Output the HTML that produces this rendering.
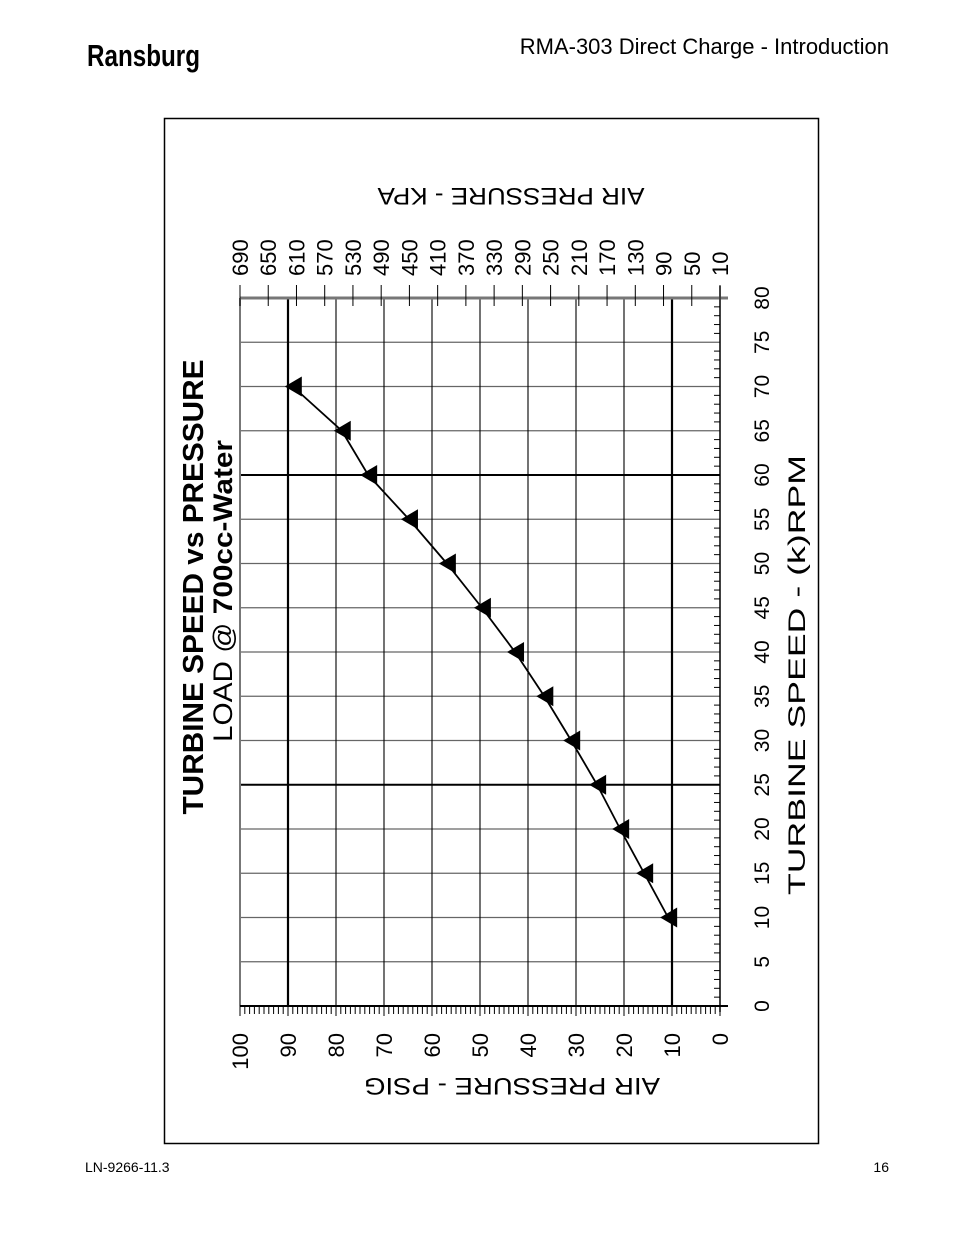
<!DOCTYPE html>
<html><head><meta charset="utf-8"><style>
html,body{margin:0;padding:0;background:#fff;}
svg{display:block;font-family:"Liberation Sans",Arial,sans-serif;}
</style></head><body>
<svg id="chart" width="954" height="1235" viewBox="0 0 954 1235" xmlns="http://www.w3.org/2000/svg">
<text x="87" y="66" font-size="31" font-weight="bold" textLength="113" lengthAdjust="spacingAndGlyphs">Ransburg</text>
<text x="889" y="54" font-size="22" text-anchor="end">RMA-303 Direct Charge - Introduction</text>
<text x="85" y="1172" font-size="14">LN-9266-11.3</text>
<text x="889" y="1172" font-size="14" text-anchor="end">16</text>
<rect x="164.5" y="118.5" width="654" height="1025" fill="none" stroke="#000" stroke-width="1.5"/>
<g id="plot"></g>
</svg>
<script>
const rpmVals=[10,15,20,25,30,35,40,45,50,55,60,65,70];
const psigVals=[10.8,15.8,20.8,25.6,31,36.6,42.7,49.6,56.9,64.8,73.3,78.8,89];
const psigTicks=[100,90,80,70,60,50,40,30,20,10,0];
const rpmTicks=[0,5,10,15,20,25,30,35,40,45,50,55,60,65,70,75,80];
const kpaTicks=[690,650,610,570,530,490,450,410,370,330,290,250,210,170,130,90,50,10];

const NS="http://www.w3.org/2000/svg";
const g=document.getElementById('plot');
const X0=240,X1=720,Y0=1006,Y1=298;
function xp(p){return X1-(X1-X0)*p/100;}
function yr(r){return Y0-(Y0-Y1)*r/80;}
function xk(i){return X0+(X1-X0)*i/(kpaTicks.length-1);}
function mk(tag,attrs){const e=document.createElementNS(NS,tag);for(const k in attrs)e.setAttribute(k,attrs[k]);g.appendChild(e);return e;}

// horizontal grid
rpmTicks.forEach(r=>{
  if(r===0)return;
  const thick=(r===25||r===60);
  const l=mk('line',{x1:X0,x2:X1,y1:yr(r),y2:yr(r),stroke:thick?'#000':(r===80?'#777':'#666'),'stroke-width':thick?2:(r===80?3:1.2)});
  
  
});
// vertical grid
psigTicks.forEach(p=>{
  if(p===0)return;
  const thick=(p===90||p===10);
  const l=mk('line',{x1:xp(p),x2:xp(p),y1:Y1,y2:Y0,stroke:p===100?'#777':'#000','stroke-width':thick?2.2:(p===100?2:1.1)});
  
  
});
// axes lines
let a=mk('line',{x1:X0,x2:X1+8,y1:Y0,y2:Y0,stroke:'#000','stroke-width':2});


a=mk('line',{x1:X1,x2:X1,y1:Y1-12,y2:Y0+6,stroke:'#000','stroke-width':1.5});


a=mk('line',{x1:X0,x2:X1+8,y1:Y1,y2:Y1,stroke:'#777','stroke-width':3});


// minor ticks bottom
for(let p=0;p<=100;p++){
  const t=mk('line',{x1:xp(p),x2:xp(p),y1:Y0,y2:Y0+(p%10===0?10:8),stroke:'#000','stroke-width':1});
  
  
}
// minor ticks right
for(let r=0;r<=80;r++){
  if(r%5===0)continue;
  const t=mk('line',{x1:X1-6,x2:X1,y1:yr(r),y2:yr(r),stroke:'#000','stroke-width':1});
  
  
}
// kpa ticks
kpaTicks.forEach((k,i)=>{
  const t=mk('line',{x1:xk(i),x2:xk(i),y1:Y1-13,y2:Y1+8,stroke:'#000','stroke-width':1});
  
  
  const x=xk(i)+8,y=276;
  const tx=mk('text',{x:x,y:y,'font-size':22,transform:`rotate(-90 ${x} ${y})`});
  tx.textContent=k;
  
  
});
psigTicks.forEach(p=>{
  const x=xp(p)+8,y=1033;
  const tx=mk('text',{x:x,y:y,'font-size':22,'text-anchor':'end',transform:`rotate(-90 ${x} ${y})`});
  tx.textContent=p;
  
  
});
rpmTicks.forEach(r=>{
  const x=769,y=yr(r);
  const tx=mk('text',{x:x,y:y,'font-size':21,'text-anchor':'middle',transform:`rotate(-90 ${x} ${y})`});
  tx.textContent=r;
  
  
});
// series line
const pts=rpmVals.map((r,i)=>xp(psigVals[i])+','+yr(r)).join(' ');
const pl=mk('polyline',{points:pts,fill:'none',stroke:'#000','stroke-width':1.8});


rpmVals.forEach((r,i)=>{
  const x=xp(psigVals[i]),y=yr(r);
  const m=mk('polygon',{points:`${x-8},${y} ${x+9},${y-10} ${x+9},${y+10}`,fill:'#000'});
  
  
});
// titles
function rt(txt,x,y,rot,size,weight,len,name){
  const t=mk('text',{x:x,y:y,'font-size':size,'font-weight':weight,'text-anchor':'middle',transform:`rotate(${rot} ${x} ${y})`,textLength:len,lengthAdjust:'spacingAndGlyphs'});
  t.textContent=txt;
  
  
  return t;
}
rt('AIR PRESSURE - KPA',511,188,180,24,'normal',267,'kpa-axis-title');
rt('AIR PRESSURE - PSIG',512,1078,180,24,'normal',296,'psig-axis-title');
rt('TURBINE SPEED - (k)RPM',805,675,-90,24,'normal',440,'rpm-axis-title');
rt('TURBINE SPEED vs PRESSURE',203,587,-90,29,'bold',455,'chart-title');
const t2=mk('text',{x:232,y:591,'font-size':27,'text-anchor':'middle',transform:'rotate(-90 232 591)',textLength:302,lengthAdjust:'spacingAndGlyphs'});


t2.innerHTML='LOAD @ <tspan font-weight="bold">700cc-Water</tspan>';
</script>
</body></html>
